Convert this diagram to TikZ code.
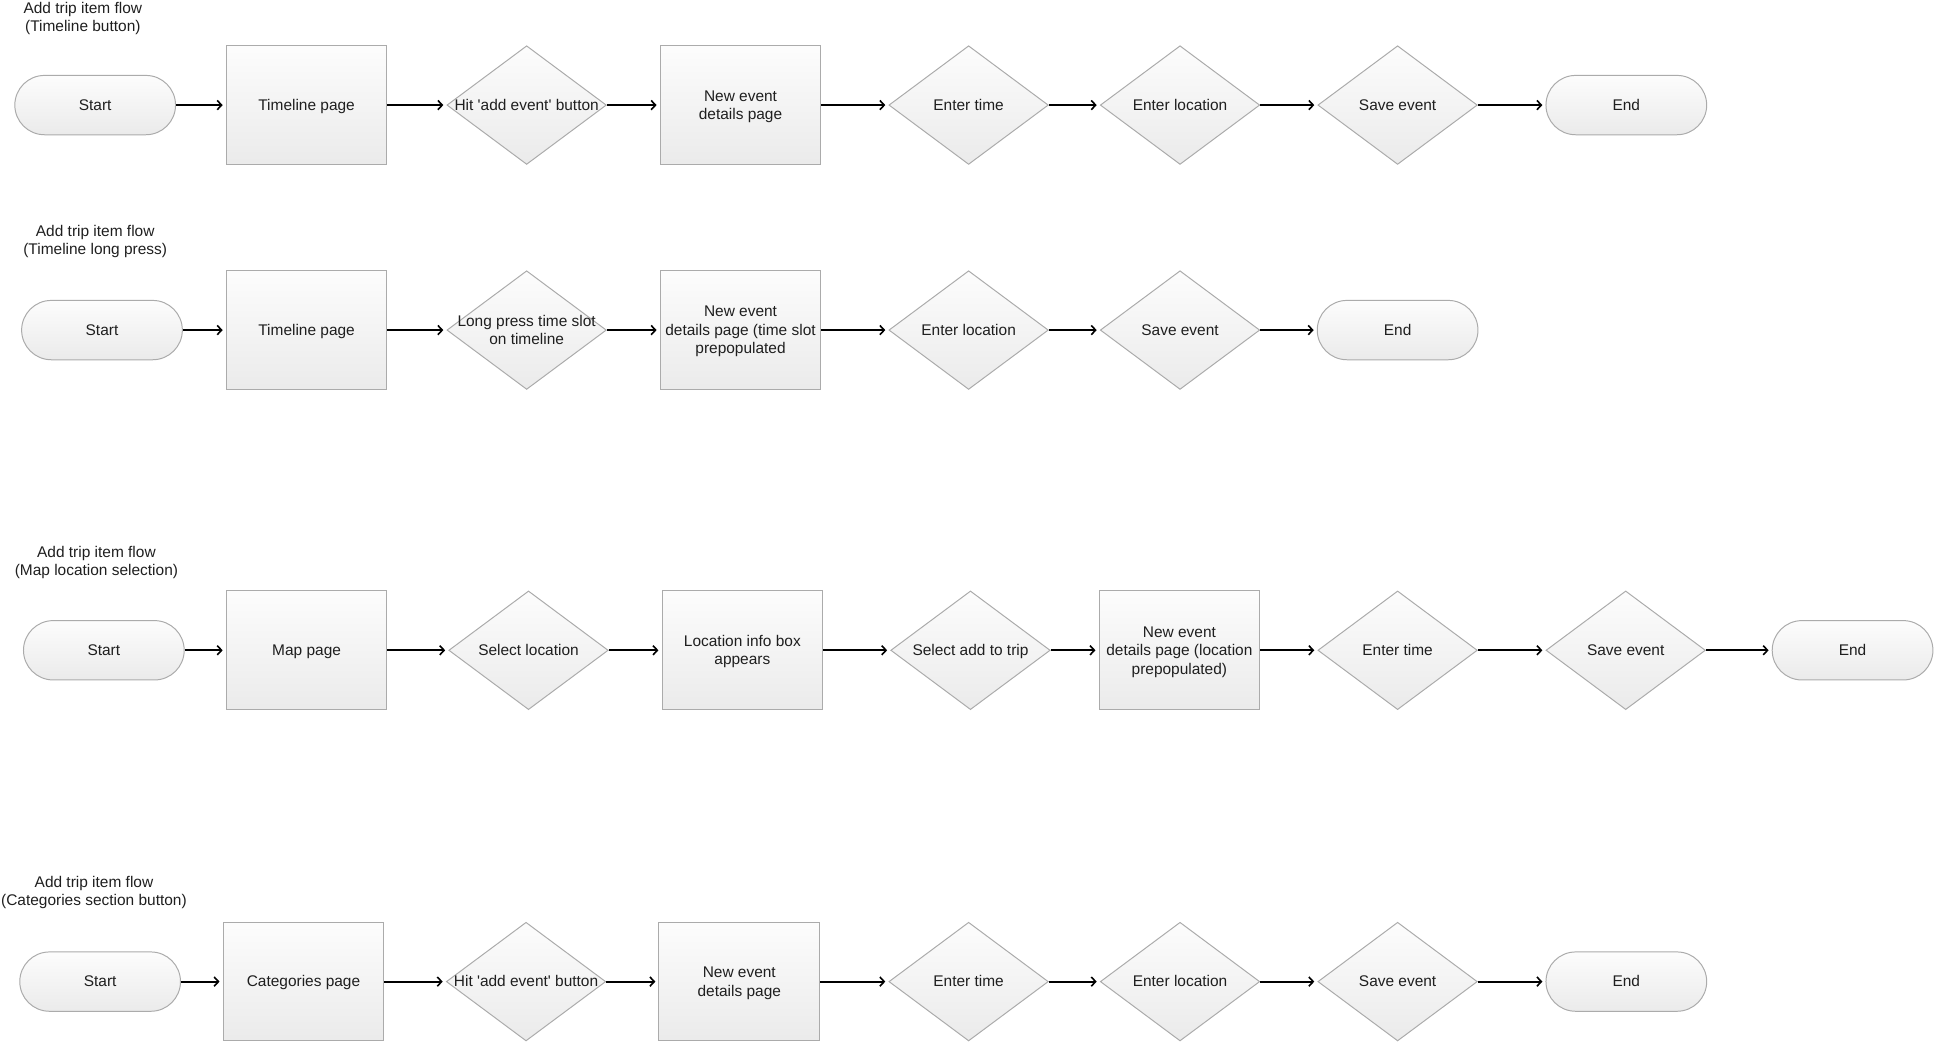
\documentclass[tikz,border=0pt]{standalone}
\usepackage{fontspec}
\setmainfont{Liberation Sans}[Ligatures=TeXOff]
\usetikzlibrary{shapes.geometric,arrows.meta}
\newcommand\nt[1]{\makebox[0pt]{\raisebox{-4.3pt}[0pt][0pt]{\begin{tabular}{@{}c@{}}#1\end{tabular}}}}
\tikzset{
  base/.style={draw=black!33, line width=0.8pt, top color=black!1, bottom color=black!8,
    font=\fontsize{12.5}{15}\selectfont, text=black!88, align=center, inner sep=0pt},
  proc/.style={base, rectangle, minimum width=130pt, minimum height=96pt},
  term/.style={base, rectangle, rounded corners=24pt, minimum width=130pt, minimum height=48pt},
  dec/.style={base, diamond, minimum width=129pt, minimum height=96pt},
  ttl/.style={font=\fontsize{12.5}{14.6}\selectfont, text=black!88, align=center, inner sep=0pt},
  flow/.style={line width=1.5pt, -{Straight Barb[length=3.5pt,width=7.5pt,line width=1.3pt]}, shorten >=2.5pt}
}
\begin{document}
\begin{tikzpicture}[x=1pt,y=-1pt]
\useasboundingbox (0,0) rectangle (1566,846);
% Row 1
\node[ttl] (t1) at (67,15) {Add trip item flow\\(Timeline button)};
\node[term] (a1) at (77,85) {\nt{Start}};
\node[proc] (a2) at (248,85) {\nt{Timeline page}};
\node[dec]  (a3) at (426,85) {\nt{Hit 'add event' button}};
\node[proc] (a4) at (599,85) {\nt{New event\\details page}};
\node[dec]  (a5) at (783.5,85) {\nt{Enter time}};
\node[dec]  (a6) at (954.5,85) {\nt{Enter location}};
\node[dec]  (a7) at (1130.5,85) {\nt{Save event}};
\node[term] (a8) at (1315.5,85) {\nt{End}};
\foreach \i/\j in {a1/a2,a2/a3,a3/a4,a4/a5,a5/a6,a6/a7,a7/a8}
  \draw[flow] (\i.east) -- (\j.west);
% Row 2
\node[ttl] (t2) at (77,195.5) {Add trip item flow\\(Timeline long press)};
\node[term] (b1) at (82.5,267) {\nt{Start}};
\node[proc] (b2) at (248,267) {\nt{Timeline page}};
\node[dec]  (b3) at (426,267) {\nt{Long press time slot\\on timeline}};
\node[proc] (b4) at (599,267) {\nt{New event\\details page (time slot\\prepopulated}};
\node[dec]  (b5) at (783.5,267) {\nt{Enter location}};
\node[dec]  (b6) at (954.5,267) {\nt{Save event}};
\node[term] (b7) at (1130.5,267) {\nt{End}};
\foreach \i/\j in {b1/b2,b2/b3,b3/b4,b4/b5,b5/b6,b6/b7}
  \draw[flow] (\i.east) -- (\j.west);
% Row 3
\node[ttl] (t3) at (78,455) {Add trip item flow\\(Map location selection)};
\node[term] (c1) at (84,526) {\nt{Start}};
\node[proc] (c2) at (248,526) {\nt{Map page}};
\node[dec]  (c3) at (427.5,526) {\nt{Select location}};
\node[proc] (c4) at (600.5,526) {\nt{Location info box\\appears}};
\node[dec]  (c5) at (785,526) {\nt{Select add to trip}};
\node[proc] (c6) at (954,526) {\nt{New event\\details page (location\\prepopulated)}};
\node[dec]  (c7) at (1130.5,526) {\nt{Enter time}};
\node[dec]  (c8) at (1315,526) {\nt{Save event}};
\node[term] (c9) at (1498.5,526) {\nt{End}};
\foreach \i/\j in {c1/c2,c2/c3,c3/c4,c4/c5,c5/c6,c6/c7,c7/c8,c8/c9}
  \draw[flow] (\i.east) -- (\j.west);
% Row 4
\node[ttl] (t4) at (76,722) {Add trip item flow\\(Categories section button)};
\node[term] (d1) at (81,794) {\nt{Start}};
\node[proc] (d2) at (245.5,794) {\nt{Categories page}};
\node[dec]  (d3) at (425.5,794) {\nt{Hit 'add event' button}};
\node[proc] (d4) at (598,794) {\nt{New event\\details page}};
\node[dec]  (d5) at (783.5,794) {\nt{Enter time}};
\node[dec]  (d6) at (954.5,794) {\nt{Enter location}};
\node[dec]  (d7) at (1130.5,794) {\nt{Save event}};
\node[term] (d8) at (1315.5,794) {\nt{End}};
\foreach \i/\j in {d1/d2,d2/d3,d3/d4,d4/d5,d5/d6,d6/d7,d7/d8}
  \draw[flow] (\i.east) -- (\j.west);
\end{tikzpicture}
\end{document}
